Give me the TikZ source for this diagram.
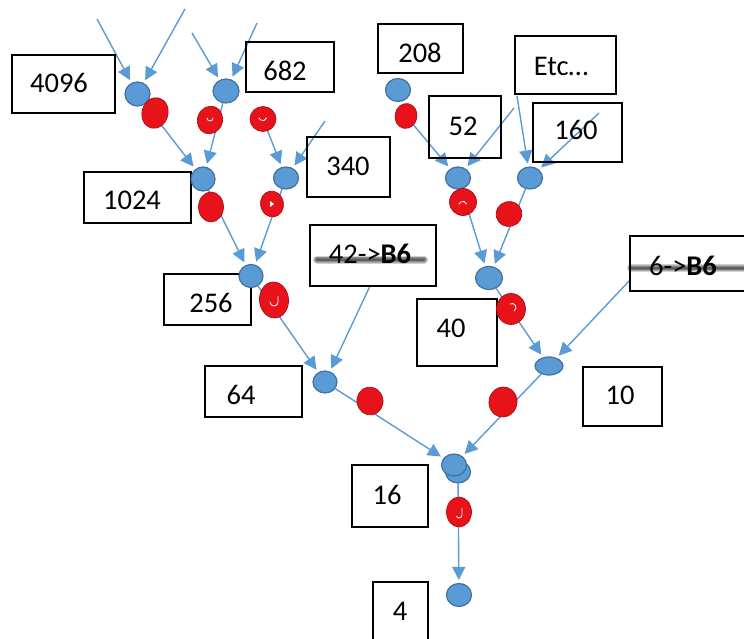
\documentclass[tikz,border=0pt]{standalone}
\usepackage{fontspec}
\setmainfont{Carlito}
\usetikzlibrary{arrows.meta,shapes.geometric}
\definecolor{lblue}{RGB}{91,155,213}
\definecolor{dblue}{RGB}{65,113,156}
\definecolor{blobred}{RGB}{232,18,26}
\pgfdeclarelayer{bg}
\pgfsetlayers{bg,main}
\tikzset{
  conn/.style={draw=lblue, line width=1.4pt, -{Triangle[length=13pt,width=13pt]}, shorten >=3pt},
  dot/.style={ellipse, fill=lblue, draw=dblue, line width=1.2pt, inner sep=0pt},
  blob/.style={ellipse, fill=blobred, draw=blobred!75!black, line width=0.7pt, inner sep=0pt},
  box/.style={draw=black, line width=1.3pt, rectangle, inner sep=0pt},
  lbl/.style={font=\fontsize{28.5}{30}\selectfont, inner sep=0pt, text=black},
  squig/.style={draw=white, line width=0.8pt, line cap=round},
  smudge/.style={draw=black, line cap=round, opacity=0.18},
}
\newcommand\bxx[5]{\node[box, minimum width={(#4-#2)*1pt}, minimum height={(#5-#3)*1pt}] (#1) at ({(#2+#4)/2},{(#3+#5)/2}) {};}
\newcommand\dotn[5]{\node[dot, minimum width=#4pt, minimum height=#5pt] (#1) at (#2,#3) {};}
\newcommand\blobn[6]{\node[blob, minimum width=#4pt, minimum height=#5pt, rotate=#6] (#1) at (#2,#3) {};}
\begin{document}
\begin{tikzpicture}[x=1pt,y=-1pt]
\useasboundingbox (0,0) rectangle (744,639);

% boxes
\bxx{b4096}{12}{55}{115}{113}
\bxx{b682}{246}{42}{334}{92}
\bxx{b208}{378}{24}{463}{73}
\bxx{betc}{515}{36}{616}{94}
\bxx{b52}{429}{96}{501}{158}
\bxx{b160}{533}{103}{622}{162}
\bxx{b340}{307}{137}{390}{197}
\bxx{b1024}{84}{172}{191}{223}
\bxx{b42}{310}{225}{436}{286}
\bxx{b6}{630}{236}{748}{291}
\bxx{b256}{164}{274}{251}{325}
\bxx{b40}{417}{299}{497}{366}
\bxx{b64}{205}{366}{302}{417}
\bxx{b10}{583}{367}{662}{426}
\bxx{b16}{352}{465}{428}{527}
\bxx{b4}{373}{582}{428}{650}

% smudges under B6 labels
\begin{pgfonlayer}{bg}
  \foreach \w in {8,6,4.5,3,2} {
    \draw[smudge, line width=\w pt] (317,259.5) -- (424,259.5);
    \draw[smudge, line width=\w pt] (631,268) -- (744,268);
  }
\end{pgfonlayer}

% labels
\node[lbl] (t4096) at (59,83) {4096};
\node[lbl] (t682) at (285,71) {682};
\node[lbl] (t208) at (420,53) {208};
\node[lbl] (tetc) at (561,66) {Etc…};
\node[lbl] (t52) at (463,126) {52};
\node[lbl] (t160) at (576,130) {160};
\node[lbl] (t340) at (348,166) {340};
\node[lbl] (t1024) at (132,200) {1024};
\node[lbl] (t42) at (370,253.5) {42->\textbf{B6}};
\node[lbl] (t6) at (683,265.5) {6->\textbf{B6}};
\node[lbl] (t256) at (211,303) {256};
\node[lbl] (t40) at (451,328.5) {40};
\node[lbl] (t64) at (241,394.5) {64};
\node[lbl] (t10) at (620,395.5) {10};
\node[lbl] (t16) at (387,495) {16};
\node[lbl] (t4) at (400,611.5) {4};

% blue dots
\dotn{A}{137.5}{94}{25}{24}
\dotn{B}{226}{91}{26}{24}
\dotn{C}{203}{179}{24}{24}
\dotn{D}{286}{178}{25}{22}
\dotn{E}{251}{276}{24}{23}
\dotn{F}{325}{382}{24}{22}
\dotn{G2}{458}{472}{25}{22}
\dotn{G}{454}{465}{25}{22}
\dotn{H}{459}{595}{25}{23}
\dotn{I}{398}{90}{25}{23}
\dotn{J}{458}{178}{25}{22}
\dotn{K}{530}{178}{25}{22}
\dotn{L}{489}{278}{27}{23}
\dotn{M}{549}{366}{28}{18}

% red blobs
\blobn{rA}{155}{113}{26}{31}{-15}
\blobn{rB}{210}{120}{25}{28}{-20}
\blobn{rX}{263}{119}{26}{25}{0}
\blobn{rC}{211}{207}{25}{30}{0}
\blobn{rD}{272}{204}{23}{26}{10}
\blobn{rE}{274}{300}{29}{36}{5}
\blobn{rF}{370}{401}{26}{28}{10}
\blobn{rG}{459}{512}{25}{30}{0}
\blobn{rI}{406}{116}{22}{25}{-10}
\blobn{rJ}{463}{202}{27}{27}{0}
\blobn{rK}{509}{214}{26}{25}{15}
\blobn{rL}{511}{309}{29}{31}{0}
\blobn{rM}{503}{402}{28}{30}{-10}

% white squiggles in blobs
\draw[squig] ([xshift=-3pt,yshift=2pt]rB.center) arc[start angle=180,end angle=360,radius=3pt];
\draw[squig] ([xshift=-4pt,yshift=1pt]rX.center) arc[start angle=200,end angle=340,radius=4pt];
\draw[squig] ([xshift=4pt,yshift=4pt]rE.center) -- ([xshift=4pt,yshift=-2pt]rE.center) arc[start angle=0,end angle=-180,radius=4pt];
\draw[squig] ([xshift=3pt,yshift=4pt]rG.center) -- ([xshift=3pt,yshift=-3pt]rG.center) arc[start angle=0,end angle=-150,radius=3pt];
\draw[squig] ([xshift=-4pt,yshift=-2pt]rJ.center) arc[start angle=160,end angle=20,radius=4pt];
\draw[squig] ([xshift=-1pt,yshift=5pt]rL.center) arc[start angle=120,end angle=-60,radius=4pt];
\fill[white] ([xshift=-2pt,yshift=-3pt]rD.center) -- ([xshift=2pt,yshift=0pt]rD.center) -- ([xshift=-2pt,yshift=3pt]rD.center) -- cycle;

% free ends
\coordinate (sA1) at (97,19);
\coordinate (sA2) at (185,9);
\coordinate (sB1) at (192,33);
\coordinate (sB2) at (257,23);
\coordinate (sD) at (325,121);
\coordinate (sJ) at (514,108);
\coordinate (sK1) at (517,96);
\coordinate (sK2) at (599,113);
\coordinate (s6) at (630,280);
\coordinate (s42) at (370,286);

% connectors
\begin{pgfonlayer}{bg}
\draw[conn] (sA1) -- (A);
\draw[conn] (sA2) -- (A);
\draw[conn] (sB1) -- (B);
\draw[conn] (sB2) -- (B);
\draw[conn] (A) -- (C);
\draw[conn] (B) -- (C);
\draw[conn] (rX) -- (D);
\draw[conn] (sD) -- (D);
\draw[conn] (C) -- (E);
\draw[conn] (D) -- (E);
\draw[conn] (E) -- (F);
\draw[conn] (s42) -- (F);
\draw[conn] (F) -- (G);
\draw[conn] (M) -- (G);
\draw[conn] (G2) -- (H);
\draw[conn] (rI) -- (J);
\draw[conn] (sJ) -- (J);
\draw[conn] (sK1) -- (K);
\draw[conn] (sK2) -- (K);
\draw[conn] (J) -- (L);
\draw[conn] (K) -- (L);
\draw[conn] (L) -- (M);
\draw[conn] (s6) -- (M);
\end{pgfonlayer}
\end{tikzpicture}
\end{document}
